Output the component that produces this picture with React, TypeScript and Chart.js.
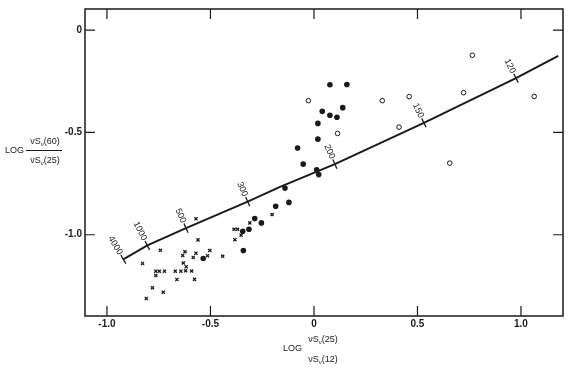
import React, { useEffect, useRef } from "react";
import { Chart, registerables } from "chart.js";
Chart.register(...registerables);

const xTicks = [-1.0, -0.5, 0, 0.5, 1.0];
const xTickLabels = ["-1.0", "-0.5", "0", "0.5", "1.0"];
const yTicks = [-1.0, -0.5, 0];
const yTickLabels = ["-1.0", "-0.5", "0"];

const curveX = [-0.921, -0.805, -0.618, -0.320, -0.164, 0.101, 0.531, 0.976, 1.180];
const curveY = [-1.120, -1.052, -0.968, -0.838, -0.766, -0.655, -0.453, -0.235, -0.126];

const markerLabels = ["4000", "1000", "500", "300", "200", "150", "120"];
const markerX = [-0.921, -0.805, -0.618, -0.320, 0.101, 0.531, 0.976];
const markerY = [-1.120, -1.052, -0.968, -0.838, -0.655, -0.453, -0.235];

const crossX = [-0.828, -0.810, -0.780, -0.764, -0.747, -0.722, -0.764, -0.742, -0.728, -0.670, -0.643, -0.662, -0.634, -0.623, -0.631, -0.617, -0.620, -0.591, -0.583, -0.577, -0.570, -0.570, -0.560, -0.503, -0.514, -0.441, -0.386, -0.369, -0.352, -0.382, -0.310, -0.202];
const crossY = [-1.140, -1.311, -1.259, -1.178, -1.178, -1.178, -1.199, -1.076, -1.281, -1.178, -1.178, -1.219, -1.101, -1.083, -1.138, -1.156, -1.176, -1.177, -1.111, -1.218, -1.090, -0.922, -1.025, -1.077, -1.103, -1.105, -0.973, -0.973, -1.002, -1.024, -0.942, -0.901];

const filledX = [0.077, 0.159, 0.040, 0.077, 0.111, 0.139, 0.019, 0.019, -0.079, -0.052, 0.013, 0.023, -0.140, -0.121, -0.185, -0.286, -0.254, -0.314, -0.344, -0.341, -0.535];
const filledY = [-0.267, -0.266, -0.397, -0.416, -0.426, -0.379, -0.456, -0.533, -0.576, -0.655, -0.683, -0.706, -0.772, -0.842, -0.861, -0.921, -0.942, -0.973, -0.983, -1.077, -1.116];

const openX = [-0.027, 0.330, 0.460, 0.765, 0.723, 1.064, 0.411, 0.656, 0.114];
const openY = [-0.345, -0.345, -0.325, -0.123, -0.306, -0.324, -0.474, -0.650, -0.505];

const INK = "#1a1a1a";
const FONT = "'Liberation Sans', Arial, sans-serif";

function pts(xs: number[], ys: number[]) {
  return xs.map((x, i) => ({ x, y: ys[i] }));
}

function interp(x: number) {
  if (x <= curveX[0]) return curveY[0];
  for (let i = 0; i < curveX.length - 1; i++) {
    if (x <= curveX[i + 1]) {
      const t = (x - curveX[i]) / (curveX[i + 1] - curveX[i]);
      return curveY[i] + t * (curveY[i + 1] - curveY[i]);
    }
  }
  return curveY[curveY.length - 1];
}

function angleAt(sx: any, sy: any, x: number) {
  const x0 = Math.max(curveX[0], x - 0.04);
  const x1 = Math.min(curveX[curveX.length - 1], x + 0.04);
  const dx = sx.getPixelForValue(x1) - sx.getPixelForValue(x0);
  const dy = sy.getPixelForValue(interp(x1)) - sy.getPixelForValue(interp(x0));
  return Math.atan2(dy, dx);
}

function drawNuS(ctx: CanvasRenderingContext2D, suffix: string, cx: number, y: number) {
  const big = `9px ${FONT}`;
  const small = `6px ${FONT}`;
  ctx.font = big;
  const w1 = ctx.measureText("\u03BDS").width;
  const w3 = ctx.measureText(suffix).width;
  ctx.font = small;
  const w2 = ctx.measureText("\u03BD").width;
  let x = cx - (w1 + w2 + w3) / 2;
  ctx.textAlign = "left";
  ctx.textBaseline = "alphabetic";
  ctx.font = big;
  ctx.fillText("\u03BDS", x, y + 3);
  x += w1;
  ctx.font = small;
  ctx.fillText("\u03BD", x, y + 5);
  x += w2;
  ctx.font = big;
  ctx.fillText(suffix, x, y + 3);
}

const decorPlugin = {
  id: "decor",
  afterDraw(chart: any) {
    const { ctx, chartArea: a, scales } = chart;
    const sx = scales.x, sy = scales.y;
    ctx.save();
    // frame
    ctx.strokeStyle = INK;
    ctx.lineWidth = 1.5;
    ctx.strokeRect(a.left, a.top, a.right - a.left, a.bottom - a.top);
    // inward ticks
    ctx.lineWidth = 1.2;
    const L = 10;
    ctx.beginPath();
    xTicks.forEach((v) => {
      const px = sx.getPixelForValue(v);
      ctx.moveTo(px, a.bottom);
      ctx.lineTo(px, a.bottom - L);
      ctx.moveTo(px, a.top);
      ctx.lineTo(px, a.top + L);
    });
    yTicks.forEach((v) => {
      const py = sy.getPixelForValue(v);
      ctx.moveTo(a.left, py);
      ctx.lineTo(a.left + L, py);
      ctx.moveTo(a.right, py);
      ctx.lineTo(a.right - L, py);
    });
    ctx.stroke();

    // curve marker labels
    ctx.fillStyle = INK;
    ctx.font = `9px ${FONT}`;
    markerLabels.forEach((lab, i) => {
      const px = sx.getPixelForValue(markerX[i]);
      const py = sy.getPixelForValue(markerY[i]);
      const th = angleAt(sx, sy, markerX[i]);
      const w = ctx.measureText(lab).width;
      const d = 6 + w / 2;
      const nx = Math.cos(th - Math.PI / 2);
      const ny = Math.sin(th - Math.PI / 2);
      ctx.save();
      ctx.translate(px + nx * d, py + ny * d);
      ctx.rotate(th + Math.PI / 2);
      ctx.textAlign = "center";
      ctx.textBaseline = "middle";
      ctx.fillText(lab, 0, 0);
      ctx.restore();
    });

    // y axis title
    ctx.font = `9px ${FONT}`;
    ctx.textAlign = "left";
    ctx.textBaseline = "middle";
    ctx.fillText("LOG", 5, 151);
    ctx.lineWidth = 1;
    ctx.beginPath();
    ctx.moveTo(26, 150.5);
    ctx.lineTo(62, 150.5);
    ctx.stroke();
    drawNuS(ctx, "(60)", 45, 141);
    drawNuS(ctx, "(25)", 45, 160);

    // x axis title
    ctx.font = `9px ${FONT}`;
    ctx.textAlign = "left";
    ctx.textBaseline = "middle";
    ctx.fillText("LOG", 283, 349);
    drawNuS(ctx, "(25)", 323, 339);
    drawNuS(ctx, "(12)", 323, 359);
    ctx.restore();
  },
};

export default function App() {
  const ref = useRef<HTMLCanvasElement | null>(null);
  useEffect(() => {
    if (!ref.current) return;
    const chart = new Chart(ref.current, {
      type: "scatter",
      data: {
        datasets: [
          {
            type: "line",
            data: pts(curveX, curveY),
            borderColor: INK,
            borderWidth: 2,
            pointRadius: 0,
            tension: 0,
            fill: false,
          } as any,
          {
            data: pts(markerX, markerY),
            pointStyle: "line",
            pointRadius: 5,
            borderColor: INK,
            borderWidth: 1.3,
            rotation: (c: any) => {
              const sx = c.chart.scales.x, sy = c.chart.scales.y;
              if (!sx || !sy) return 90;
              return (angleAt(sx, sy, markerX[c.dataIndex]) * 180) / Math.PI + 90;
            },
          } as any,
          {
            data: pts(crossX, crossY),
            pointStyle: "crossRot",
            pointRadius: 2.2,
            borderColor: INK,
            borderWidth: 1.3,
          },
          {
            data: pts(filledX, filledY),
            pointStyle: "circle",
            pointRadius: 2.8,
            backgroundColor: INK,
            borderColor: INK,
            borderWidth: 0,
          },
          {
            data: pts(openX, openY),
            pointStyle: "circle",
            pointRadius: 2.3,
            backgroundColor: "#ffffff",
            borderColor: INK,
            borderWidth: 1,
          },
        ],
      },
      options: {
        responsive: false,
        animation: false,
        devicePixelRatio: 1,
        layout: { padding: { top: 7, right: 7, left: 0, bottom: 0 } },
        plugins: { legend: { display: false }, tooltip: { enabled: false }, title: { display: false } },
        scales: {
          x: {
            type: "linear",
            min: -1.106,
            max: 1.203,
            grid: { display: false, drawTicks: false },
            border: { display: false },
            afterBuildTicks: (s: any) => {
              s.ticks = xTicks.map((v) => ({ value: v }));
            },
            afterFit: (s: any) => {
              s.height = 53;
            },
            ticks: {
              padding: 2,
              color: INK,
              font: { family: FONT, size: 10, weight: "bold" },
              callback: (v: any) => {
                const i = xTicks.indexOf(Number(v));
                return i >= 0 ? xTickLabels[i] : "";
              },
            },
          },
          y: {
            type: "linear",
            min: -1.397,
            max: 0.103,
            grid: { display: false, drawTicks: false },
            border: { display: false },
            afterBuildTicks: (s: any) => {
              s.ticks = yTicks.map((v) => ({ value: v }));
            },
            afterFit: (s: any) => {
              s.width = 85;
            },
            ticks: {
              padding: 3,
              color: INK,
              font: { family: FONT, size: 10, weight: "bold" },
              callback: (v: any) => {
                const i = yTicks.indexOf(Number(v));
                return i >= 0 ? yTickLabels[i] : "";
              },
            },
          },
        },
      } as any,
      plugins: [decorPlugin],
    });
    return () => chart.destroy();
  }, []);
  return (
    <div style={{ position: "absolute", left: 0, top: 0, width: 570, height: 369, background: "#fff" }}>
      <canvas ref={ref} width={570} height={369} style={{ display: "block" }} />
    </div>
  );
}
